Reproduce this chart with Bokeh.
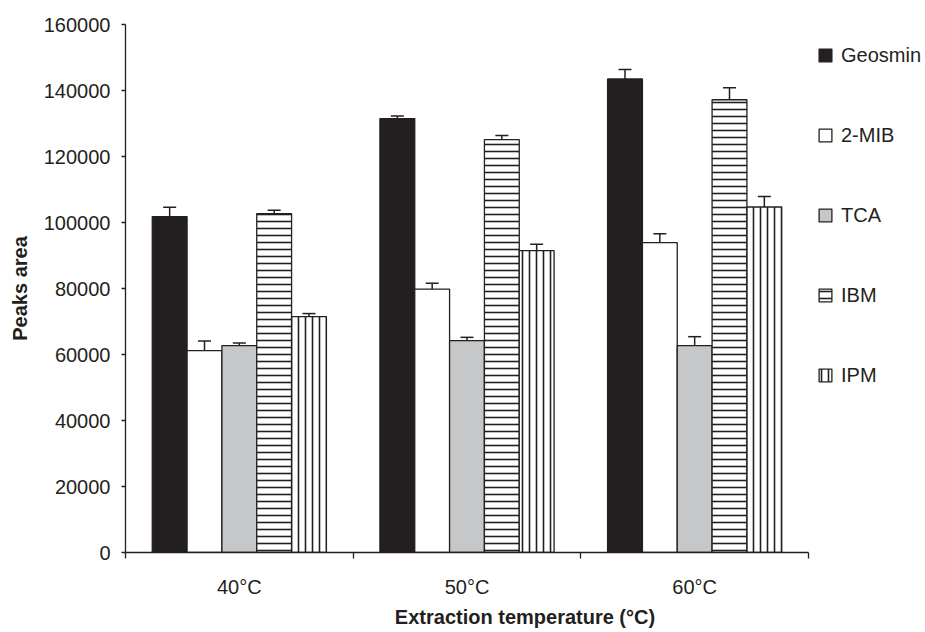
from bokeh.plotting import figure
from bokeh.models import (Range1d, ColumnDataSource, Whisker, TeeHead, Legend,
                          LegendItem, LinearAxis, FixedTicker, BasicTickFormatter)
from bokeh.embed import file_html
from bokeh.resources import INLINE

# ---------------- data ----------------
temperatures = ["40°C", "50°C", "60°C"]
compounds = ["Geosmin", "2-MIB", "TCA", "IBM", "IPM"]

geosmin = [101800, 131500, 143500]
mib = [61200, 79800, 93900]
tca = [62700, 64200, 62700]
ibm = [102700, 125100, 137200]
ipm = [71500, 91500, 104700]

geosmin_err = [2800, 800, 2900]
mib_err = [2900, 1800, 2700]
tca_err = [750, 1000, 2700]
ibm_err = [1000, 1250, 3600]
ipm_err = [900, 1900, 3200]

y_ticks = [0, 20000, 40000, 60000, 80000, 100000, 120000, 140000, 160000]

# ---------------- style ----------------
INK = "#231f20"
FONT = "Liberation Sans"
styles = {
    "Geosmin": dict(fill_color=INK),
    "2-MIB": dict(fill_color="white"),
    "TCA": dict(fill_color="#c6c7c9"),
    "IBM": dict(fill_color="white", hatch_pattern="horizontal_line", hatch_scale=7,
                hatch_weight=1.6, hatch_color=INK),
    "IPM": dict(fill_color="white", hatch_pattern="vertical_line", hatch_scale=7,
                hatch_weight=1.6, hatch_color=INK),
}
values = [geosmin, mib, tca, ibm, ipm]
errors = [geosmin_err, mib_err, tca_err, ibm_err, ipm_err]

BAR_W = 0.153
ncat = len(temperatures)
centers = [k + 0.5 for k in range(ncat)]
edges = list(range(ncat + 1))

# layout: the frame spans the legend area too; the axis is bounded to the categories
FIG_W, FIG_H = 924, 631
LEFT, TOP, BOTTOM = 125, 24, 79
FRAME_W = FIG_W - LEFT          # px
AXIS_W = 683                    # px used by the three categories

p = figure(width=FIG_W, height=FIG_H,
           x_range=Range1d(0, ncat * FRAME_W / AXIS_W),
           y_range=Range1d(y_ticks[0], y_ticks[-1]),
           output_backend="svg", toolbar_location=None,
           x_axis_location=None, y_axis_location=None,
           min_border_left=LEFT, min_border_right=0, min_border_top=TOP, min_border_bottom=BOTTOM)
p.outline_line_color = None
p.background_fill_color = "white"
p.border_fill_color = "white"
p.xgrid.grid_line_color = None
p.ygrid.grid_line_color = None

# y axis
yaxis = LinearAxis(ticker=FixedTicker(ticks=y_ticks, minor_ticks=[]),
                   formatter=BasicTickFormatter(use_scientific=False),
                   axis_label="Peaks area")
yaxis.axis_line_color = INK
yaxis.axis_line_width = 1.3
yaxis.major_tick_line_color = INK
yaxis.major_tick_line_width = 1.3
yaxis.major_tick_out = 4
yaxis.major_tick_in = 0
yaxis.minor_tick_line_color = None
yaxis.major_label_text_font = FONT
yaxis.major_label_text_font_size = "20px"
yaxis.major_label_text_color = INK
yaxis.major_label_standoff = 11
yaxis.axis_label_text_font = FONT
yaxis.axis_label_text_font_size = "20px"
yaxis.axis_label_text_font_style = "bold"
yaxis.axis_label_text_color = INK
yaxis.axis_label_standoff = 10
p.add_layout(yaxis, "left")

# x axis: labels at group centres, tick marks (minor) at category boundaries
xaxis = LinearAxis(ticker=FixedTicker(ticks=centers, minor_ticks=edges),
                   major_label_overrides={c: t for c, t in zip(centers, temperatures)},
                   axis_label="Extraction temperature (°C)",
                   bounds=(0, ncat))
xaxis.axis_line_color = INK
xaxis.axis_line_width = 1.3
xaxis.major_tick_line_color = None
xaxis.major_tick_out = 0
xaxis.major_tick_in = 0
xaxis.minor_tick_line_color = INK
xaxis.minor_tick_line_width = 1.3
xaxis.minor_tick_out = 6
xaxis.minor_tick_in = 0
xaxis.major_label_text_font = FONT
xaxis.major_label_text_font_size = "20px"
xaxis.major_label_text_color = INK
xaxis.major_label_standoff = 17
xaxis.axis_label_text_font = FONT
xaxis.axis_label_text_font_size = "20px"
xaxis.axis_label_text_font_style = "bold"
xaxis.axis_label_text_color = INK
xaxis.axis_label_standoff = 5
p.add_layout(xaxis, "below")

items = []
n = len(compounds)
for i, (name, vals, errs) in enumerate(zip(compounds, values, errors)):
    off = (i - (n - 1) / 2) * BAR_W
    src = ColumnDataSource(dict(
        x=[c + off for c in centers], top=vals,
        upper=[v + e for v, e in zip(vals, errs)],
        lower=[v - e for v, e in zip(vals, errs)],
    ))
    r = p.vbar(x="x", top="top", width=BAR_W, source=src,
               line_color=INK, line_width=1.3, **styles[name])
    items.append(LegendItem(label=name, renderers=[r]))
    w = Whisker(base="x", upper="upper", lower="lower",
                source=src, line_color=INK, line_width=1.5,
                upper_head=TeeHead(size=13, line_color=INK, line_width=1.5),
                lower_head=TeeHead(size=13, line_color=INK, line_width=1.5))
    p.add_layout(w)

legend = Legend(items=items, location=(692, 163))
legend.orientation = "vertical"
legend.glyph_width = 16
legend.glyph_height = 16
legend.label_height = 28
legend.spacing = 52
legend.padding = 0
legend.margin = 0
legend.label_standoff = 8
legend.border_line_color = None
legend.background_fill_alpha = 0
legend.label_text_font = FONT
legend.label_text_font_size = "20px"
legend.label_text_color = INK
p.add_layout(legend)

open("out.html", "w").write(file_html(p, INLINE))
